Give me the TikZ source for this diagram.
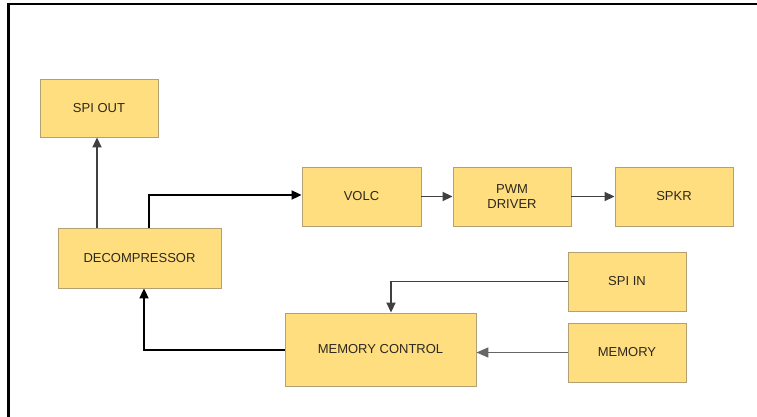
\documentclass[tikz,border=0pt]{standalone}
\usepackage{fontspec}
\setmainfont{Liberation Sans}
\usepackage{xcolor}
\usepackage{tikz}
\usetikzlibrary{positioning,calc,arrows.meta}
\definecolor{blockfill}{RGB}{255,222,128}
\definecolor{blockline}{RGB}{180,160,115}
\definecolor{labeltext}{RGB}{45,40,30}

\begin{document}
\begin{tikzpicture}[x=1pt, y=-1pt,
    block/.style={draw=blockline, fill=blockfill, line width=0.9pt, align=center,
        text=labeltext, font=\fontsize{13}{15}\selectfont, inner sep=0pt},
    wire/.style={draw=black!75, line width=1.8pt, -{Triangle[length=10pt, width=9pt]}},
    boldwire/.style={draw=black, line width=2pt, -{Triangle[length=10pt, width=9pt]}},
    thinwire/.style={draw=black!60, line width=1.6pt, -{Triangle[length=12pt, width=10pt]}}]
    \useasboundingbox (0,0) rectangle (757,417);

    % Frame
    \draw[line width=2.2pt] (8.5,417) -- (8.5,4) -- (757,4);

    % Blocks
    \node[block, minimum width=118pt, minimum height=58pt] (spiout) at (99,108) {SPI OUT};
    \node[block, minimum width=163pt, minimum height=60pt] (decomp) at (139.5,258) {DECOMPRESSOR};
    \node[block, minimum width=119pt, minimum height=59pt] (volc) at (361.5,196.5) {VOLC};
    \node[block, minimum width=118pt, minimum height=59pt] (pwm) at (512,196.5) {PWM\\DRIVER};
    \node[block, minimum width=118pt, minimum height=59pt] (spkr) at (674,196.5) {SPKR};
    \node[block, minimum width=191pt, minimum height=73pt] (memctl) at (380.5,349.5) {MEMORY CONTROL};
    \node[block, minimum width=118pt, minimum height=59pt] (spiin) at (627,281.5) {SPI IN};
    \node[block, minimum width=118pt, minimum height=59pt] (memory) at (627,352.5) {MEMORY};

    % Connectors
    \draw[wire] ([xshift=-2pt]decomp.north -| spiout.south) -- ([xshift=-2pt]spiout.south);
    \draw[boldwire] ([xshift=9.5pt]decomp.north) |- ([yshift=1.5pt]volc.west);
    \draw[wire] (volc) -- (pwm);
    \draw[wire] (pwm) -- (spkr);
    \draw[wire] (spiin.west) -| ([xshift=10.5pt]memctl.north);
    \draw[thinwire] (memory.west) -- (memory.west -| memctl.east);
    \draw[boldwire] (memctl.west) -| ([xshift=4.5pt]decomp.south);

\end{tikzpicture}
\end{document}
